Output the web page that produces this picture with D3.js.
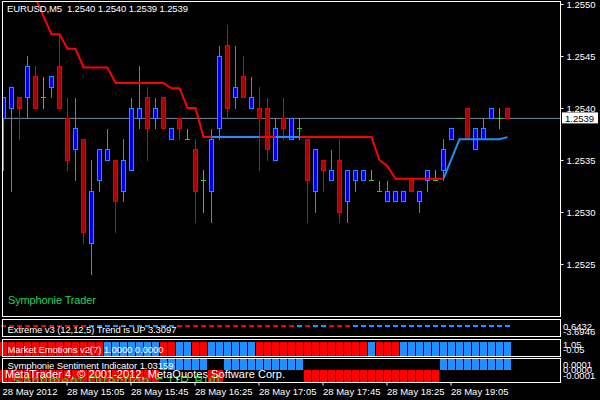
<!DOCTYPE html>
<html><head><meta charset="utf-8">
<script src="https://cdn.jsdelivr.net/npm/d3@7"></script>
<style>
html,body{margin:0;padding:0;background:#000;}
svg{display:block;}
text{font-family:"Liberation Sans",Arial,sans-serif;}
</style></head><body>
<svg id="c" width="600" height="400"></svg>
<script>
// ---------- data ----------
const times = [
"14:25","14:30","14:35","14:40","14:45","14:50","14:55","15:00",
"15:05","15:10","15:15","15:20","15:25","15:30","15:35","15:40",
"15:45","15:50","15:55","16:00","16:05","16:10","16:15","16:20",
"16:25","16:30","16:35","16:40","16:45","16:50","16:55","17:00",
"17:05","17:10","17:15","17:20","17:25","17:30","17:35","17:40",
"17:45","17:50","17:55","18:00","18:05","18:10","18:15","18:20",
"18:25","18:30","18:35","18:40","18:45","18:50","18:55","19:00",
"19:05","19:10","19:15","19:20","19:25","19:30","19:35","19:40"];
const open = [
1.2539,1.2540,1.2541,1.2541,1.2543,1.2541,1.2542,1.2544,
1.2539,1.2536,1.2537,1.2527,1.2533,1.2535,1.2535,1.2532,
1.2534,1.2539,1.2541,1.2539,1.2541,1.2537,1.2539,1.2537,
1.2536,1.2533,1.2532,1.2538,1.2546,1.2541,1.2543,1.2540,
1.2540,1.2540,1.2535,1.2539,1.2537,1.2538,1.2537,1.2532,
1.2535,1.2533,1.2535,1.2531,1.2533,1.2533,1.2533,1.2532,
1.2531,1.2531,1.2531,1.2533,1.2531,1.2533,1.2533,1.2534,
1.2537,1.2539,1.2540,1.2536,1.2537,1.2539,1.2539,1.2540];
const high = [
1.2541,1.2542,1.2541,1.2545,1.2544,1.2543,1.2543,1.2547,
1.2541,1.2541,1.2537,1.2535,1.2536,1.2538,1.2535,1.2537,
1.2541,1.2544,1.2542,1.2541,1.2541,1.2538,1.2539,1.2538,
1.2537,1.2534,1.2538,1.2546,1.2548,1.2546,1.2545,1.2543,
1.2542,1.2541,1.2539,1.2541,1.2539,1.2539,1.2537,1.2536,
1.2535,1.2536,1.2537,1.2534,1.2534,1.2534,1.2534,1.2533,
1.2533,1.2532,1.2532,1.2533,1.2532,1.2534,1.2534,1.2537,
1.2538,1.2539,1.2540,1.2538,1.2539,1.2540,1.2540,1.2540];
const low = [
1.2534,1.2532,1.2537,1.2539,1.2540,1.2540,1.2541,1.2540,
1.2534,1.2533,1.2527,1.2524,1.2532,1.2535,1.2528,1.2531,
1.2534,1.2538,1.2535,1.2538,1.2538,1.2537,1.2537,1.2537,
1.2529,1.2530,1.2529,1.2537,1.2539,1.2540,1.2541,1.2540,
1.2534,1.2535,1.2535,1.2537,1.2537,1.2537,1.2529,1.2530,
1.2532,1.2533,1.2529,1.2529,1.2532,1.2533,1.2533,1.2532,
1.2531,1.2531,1.2531,1.2532,1.2530,1.2532,1.2533,1.2533,
1.2537,1.2539,1.2537,1.2536,1.2537,1.2539,1.2538,1.2539];
const close = [
1.2541,1.2542,1.2540,1.2544,1.2540,1.2541,1.2543,1.2540,
1.2535,1.2538,1.2528,1.2532,1.2536,1.2536,1.2531,1.2535,
1.2540,1.2540,1.2538,1.2540,1.2538,1.2538,1.2538,1.2537,
1.2532,1.2533,1.2537,1.2545,1.2540,1.2542,1.2541,1.2541,
1.2539,1.2536,1.2538,1.2538,1.2539,1.2538,1.2533,1.2536,
1.2534,1.2534,1.2530,1.2534,1.2534,1.2534,1.2533,1.2532,
1.2532,1.2532,1.2532,1.2532,1.2532,1.2534,1.2533,1.2536,
1.2538,1.2539,1.2537,1.2538,1.2538,1.2540,1.2539,1.2539];
// trailing stop lines (null = not drawn)
const N = null;
const redLine = [
N,N,N,N,1.25506,1.25488,1.25471,1.25471,
1.25457,1.25457,1.25439,1.25439,1.25439,1.25439,1.25424,1.25424,
1.25424,1.25424,1.25424,1.25424,1.25424,1.25419,1.25419,1.25400,
1.25400,1.25372,1.25372,N,N,N,N,N,
1.25372,1.25372,1.25372,N,N,1.25372,1.25372,1.25372,
1.25372,1.25372,1.25372,1.25372,1.25372,1.25372,1.25372,1.25350,
1.25344,1.25332,1.25332,1.25332,1.25332,1.25332,1.25332,1.25332,
N,N,N,N,N,N,N,N];
const blueLine = [
N,N,N,N,N,N,N,N,
N,N,N,N,N,N,N,N,
N,N,N,N,N,N,N,N,
N,N,1.25372,1.25372,1.25372,1.25372,1.25372,1.25372,
1.25372,1.25372,1.25372,1.25372,1.25372,1.25372,N,N,
N,N,N,N,N,N,N,N,
N,N,N,N,N,N,N,1.25332,
1.25351,1.25370,1.25370,1.25370,1.25370,1.25370,1.25370,1.25372];
const currentPrice = 1.2539;
const priceTicks = [1.2525,1.2530,1.2535,1.2540,1.2545,1.2550];
const timeTicks = ["15:05","15:45","16:25","17:05","17:45","18:25","19:05"];
const dateLabel = "28 May 2012";
// Extreme v3 trend per bar: 1 = up (blue), -1 = down (red)
const extremeTrend = [
-1,-1,-1,-1,-1,-1,-1,-1,-1,-1,-1,1,1,1,1,1,
1,1,1,1,1,1,-1,-1,-1,-1,-1,-1,-1,-1,-1,-1,
-1,-1,-1,-1,-1,1,-1,1,1,-1,-1,-1,1,1,1,1,
1,1,1,1,1,1,1,1,1,1,1,1,1,1,1,1];
// Market Emotions: 1 = bull (blue), 0 = bear (red)
const emotions = [
0,0,0,0,0,0,0,0,0,0,0,0,0,1,1,1,
1,1,1,1,0,0,1,1,0,0,1,1,1,1,1,1,
0,0,0,0,0,0,0,0,0,0,0,0,0,0,1,0,
0,0,1,1,1,1,1,1,1,1,1,1,1,1,1,1];
// Symphonie Sentiment
const sentiment = [
-0.0001,-0.0001,-0.0001,-0.0001,-0.0001,-0.0001,-0.0001,-0.0001,
-0.0001,-0.0001,-0.0001,-0.0001,-0.0001,-0.0001,-0.0001,-0.0001,
-0.0001,-0.0001,-0.0001,-0.0001,0.0001,0.0001,0.0001,0.0001,
0.0001,0.0001,-0.0001,-0.0001,0.0001,0.0001,0.0001,0.0001,
0.0001,0.0001,0.0001,0.0001,0.0001,0.0001,-0.0001,-0.0001,
-0.0001,-0.0001,-0.0001,-0.0001,-0.0001,-0.0001,-0.0001,-0.0001,
-0.0001,-0.0001,-0.0001,-0.0001,-0.0001,-0.0001,-0.0001,0.0001,
0.0001,0.0001,0.0001,0.0001,0.0001,0.0001,0.0001,0.0001];

// ---------- drawing ----------
const svg = d3.select("#c");
svg.append("rect").attr("width",600).attr("height",400).attr("fill","#000");
const x = d3.scalePoint().domain(times).range([3.5, 507.5]);
const y = d3.scaleLinear().domain([1.2525, 1.2550]).range([264, 4]);
const bars = times.map((t,i)=>({t, o:open[i], h:high[i], l:low[i], c:close[i], i}));

const defs = svg.append("defs");
defs.append("clipPath").attr("id","mainClip").append("rect").attr("x",3).attr("y",2).attr("width",557).attr("height",314);
defs.append("clipPath").attr("id","symClip").append("rect").attr("x",3).attr("y",359).attr("width",557).attr("height",23);

const main = svg.append("g").attr("clip-path","url(#mainClip)");
// current price line
main.append("line").attr("x1",0).attr("x2",560).attr("y1",y(currentPrice)).attr("y2",y(currentPrice))
  .attr("stroke","#778899").attr("stroke-width",1);

const bull="#1e90ff", bullFill="#0000ff", bear="#e00000", bearFill="#b00000", doji="#32cd32";
const cg = main.append("g").attr("shape-rendering","crispEdges");
bars.forEach(b=>{
  const cx = x(b.t);
  const col = b.c>b.o ? bull : (b.c<b.o ? bear : doji);
  cg.append("line").attr("x1",cx).attr("x2",cx).attr("y1",y(b.h)).attr("y2",y(b.l)+0.5).attr("stroke",col);
  if (b.c===b.o) {
    cg.append("line").attr("x1",cx-2.5).attr("x2",cx+2.5).attr("y1",y(b.o)).attr("y2",y(b.o)).attr("stroke",col);
  } else {
    const top=y(Math.max(b.o,b.c)), bot=y(Math.min(b.o,b.c));
    cg.append("rect").attr("x",cx-2.5).attr("width",5).attr("y",top-0.5).attr("height",bot-top+1).attr("fill",col);
    cg.append("rect").attr("x",cx-1.5).attr("width",3).attr("y",top+0.5).attr("height",Math.max(0,bot-top-1)).attr("fill",b.c>b.o?bullFill:bearFill);
  }
});

const lineGen = arr => d3.line().defined((d,i)=>arr[i]!==null).x((d,i)=>x(times[i])).y((d,i)=>y(arr[i]));
main.append("path").datum(times).attr("d",lineGen(blueLine)).attr("fill","none").attr("stroke","#1e90ff").attr("stroke-width",2);
main.append("path").datum(times).attr("d",lineGen(redLine)).attr("fill","none").attr("stroke","#ff0000").attr("stroke-width",2);

// header and labels
svg.append("text").attr("x",7).attr("y",12).attr("fill","#fff").attr("font-size","9.5px")
  .attr("textLength",181).attr("lengthAdjust","spacing").attr("xml:space","preserve")
  .text("EURUSD,M5  "+open[63].toFixed(4)+" "+high[63].toFixed(4)+" "+low[63].toFixed(4)+" "+close[63].toFixed(4));
svg.append("text").attr("x",8).attr("y",304).attr("fill","#1fd35f").attr("font-size","11px")
  .attr("textLength",88).attr("lengthAdjust","spacing").text("Symphonie Trader");

// Right price axis
const yAxis = d3.axisRight(y).tickValues(priceTicks).tickFormat(d3.format(".4f")).tickSize(3).tickPadding(3);
const ga = svg.append("g").attr("transform","translate(560.5,0)").call(yAxis);
ga.select(".domain").remove();
ga.selectAll("line").attr("stroke","#fff");
ga.selectAll("text").attr("fill","#fff").attr("font-size","9.5px").attr("font-family","Liberation Sans, Arial, sans-serif");
// current price box
svg.append("rect").attr("x",562).attr("y",y(currentPrice)-6).attr("width",36).attr("height",11).attr("fill","#fff");
svg.append("text").attr("x",565).attr("y",y(currentPrice)+3.5).attr("fill","#000").attr("font-size","9.5px").text(d3.format(".4f")(currentPrice));

// Extreme panel
const eg = svg.append("g");
bars.forEach((b,i)=>{
  const cx=x(b.t);
  eg.append("line").attr("x1",cx-2.5).attr("x2",cx+2.5).attr("y1",326).attr("y2",326)
    .attr("stroke", extremeTrend[i]>0?"#1e90ff":"#ff0000").attr("stroke-width",2);
});
svg.append("text").attr("x",7.5).attr("y",333).attr("fill","#fff").attr("font-size","9.5px")
  .attr("textLength",169).attr("lengthAdjust","spacing").text("Extreme v3 (12,12,5) Trend is UP 3.3097");

// Market Emotions
const yM = d3.scaleLinear().domain([-0.05,1.05]).range([356.4,341]);
const mg = svg.append("g").attr("shape-rendering","crispEdges");
bars.forEach((b,i)=>{
  const cx=x(b.t);
  mg.append("rect").attr("x",cx-3.5).attr("width",7).attr("y",yM(1)).attr("height",yM(0)-yM(1))
    .attr("fill", emotions[i]?"#1e90ff":"#ff0000");
});
svg.append("text").attr("x",7.5).attr("y",353).attr("fill","#fff").attr("font-size","9.5px")
  .attr("textLength",156).attr("lengthAdjust","spacing").text("Market Emotions v2(7) 1.0000 0.0000");

// Symphonie Sentiment
const yS = d3.scaleLinear().domain([-0.0001,0.0001]).range([381.7,359]);
const sg = svg.append("g").attr("shape-rendering","crispEdges");
bars.forEach((b,i)=>{
  const cx=x(b.t), v=sentiment[i];
  sg.append("rect").attr("x",cx-3.5).attr("width",7).attr("y",Math.min(yS(v),yS(0))).attr("height",Math.abs(yS(v)-yS(0)))
    .attr("fill", v>0?"#1e90ff":"#ff0000");
});
svg.append("text").attr("x",7.5).attr("y",369).attr("fill","#fff").attr("font-size","9.5px")
  .attr("textLength",166).attr("lengthAdjust","spacing").text("Symphonie Sentiment Indicator 1.03159");
svg.append("g").attr("clip-path","url(#symClip)").append("text").attr("x",13).attr("y",386).attr("fill","#1ec81e")
  .attr("font-size","14px").attr("textLength",207).attr("lengthAdjust","spacing").text("Sentiment Direction = UP Bull");
svg.append("text").attr("x",5).attr("y",378.3).attr("fill","#fff").attr("font-size","11px")
  .attr("textLength",280).attr("lengthAdjust","spacing").text("MetaTrader 4, \u00a9 2001-2012, MetaQuotes Software Corp.");

// panel frames
const frames = [[1.5,316.5],[319.5,336.5],[339.5,356.5],[358.5,382.5]];
frames.forEach(f=>{
  svg.append("rect").attr("x",2.5).attr("y",f[0]).attr("width",558).attr("height",f[1]-f[0])
    .attr("fill","none").attr("stroke","#fff").attr("stroke-width",1);
});

// sub-panel scale labels
const subLabels = [["0.6432",326],["-3.6946",331],["1.05",344.5],["-0.05",349.5],["0.0001",364],["0.0000",369.5],["-0.0001",375.5]];
subLabels.forEach(s=>{
  svg.append("text").attr("x",563).attr("y",s[1]+3.5).attr("fill","#fff").attr("font-size","9.5px").text(s[0]);
});

// time axis
const xAxis = d3.axisBottom(x).tickValues(timeTicks).tickFormat(d=>"28 May "+d).tickSize(3);
const gx = svg.append("g").attr("transform","translate(-1,382.5)").call(xAxis);
gx.select(".domain").remove();
gx.selectAll("line").attr("stroke","#fff");
gx.selectAll("text").attr("fill","#fff").attr("font-size","9.5px").attr("text-anchor","start")
  .attr("x",0).attr("y",12.5).attr("dy",0).attr("font-family","Liberation Sans, Arial, sans-serif");
svg.append("text").attr("x",x(times[0])-1).attr("y",395).attr("fill","#fff").attr("font-size","9.5px").text(dateLabel);
</script>
</body></html>
